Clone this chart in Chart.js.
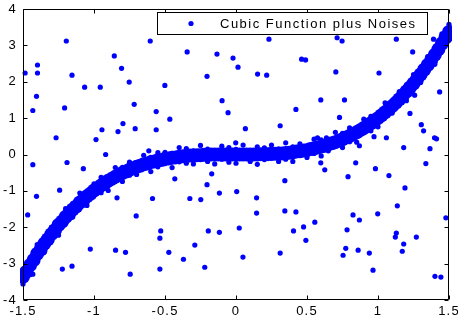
<!DOCTYPE html>
<html>
<head>
<meta charset="utf-8">
<script src="https://cdn.jsdelivr.net/npm/chart.js@4/dist/chart.umd.min.js"></script>
<style>
html,body{margin:0;padding:0;background:#fff;}
#wrap{position:relative;width:458px;height:323px;}
</style>
</head>
<body>
<div id="wrap"><canvas id="c" width="458" height="323"></canvas></div>
<script>
// ---- data ----
const seriesLabel = 'Cubic Function plus Noises';
const xTickValues = [-1.5, -1, -0.5, 0, 0.5, 1, 1.5];
const xTickLabels = ['-1.5', '-1', '-0.5', '0', '0.5', '1', '1.5'];
const yTickValues = [-4, -3, -2, -1, 0, 1, 2, 3, 4];
const yTickLabels = ['-4', '-3', '-2', '-1', '0', '1', '2', '3', '4'];

// dense band (core of the noisy cubic)
const bandX = [-1.5,-1.475,-1.45,-1.425,-1.4,-1.375,-1.35,-1.325,-1.3,-1.275,-1.25,-1.225,-1.2,-1.175,-1.15,-1.125,-1.1,-1.075,-1.05,-1.025,-1,-0.975,-0.95,-0.925,-0.9,-0.875,-0.85,-0.825,-0.8,-0.775,-0.75,-0.725,-0.7,-0.675,-0.65,-0.625,-0.6,-0.575,-0.55,-0.525,-0.5,-0.475,-0.45,-0.425,-0.4,-0.375,-0.35,-0.325,-0.3,-0.275,-0.25,-0.225,-0.2,-0.175,-0.15,-0.125,-0.1,-0.075,-0.05,-0.025,0,0.025,0.05,0.075,0.1,0.125,0.15,0.175,0.2,0.225,0.25,0.275,0.3,0.325,0.35,0.375,0.4,0.425,0.45,0.475,0.5,0.525,0.55,0.575,0.6,0.625,0.65,0.675,0.7,0.725,0.75,0.775,0.8,0.825,0.85,0.875,0.9,0.925,0.95,0.975,1,1.025,1.05,1.075,1.1,1.125,1.15,1.175,1.2,1.225,1.25,1.275,1.3,1.325,1.35,1.375,1.4,1.425,1.45,1.475,1.5];
const bandY = [-3.36,-3.22,-3.04,-2.90,-2.73,-2.61,-2.45,-2.33,-2.19,-2.08,-1.94,-1.84,-1.72,-1.63,-1.51,-1.43,-1.32,-1.25,-1.15,-1.08,-0.99,-0.93,-0.85,-0.80,-0.72,-0.67,-0.61,-0.56,-0.51,-0.47,-0.42,-0.38,-0.34,-0.31,-0.27,-0.25,-0.21,-0.19,-0.16,-0.15,-0.12,-0.11,-0.09,-0.08,-0.06,-0.05,-0.04,-0.03,-0.03,-0.02,-0.02,-0.01,-0.01,0,0,0,0,0,0,0,0,0,0,0,0,0,0,0.01,0.01,0.01,0.02,0.02,0.03,0.03,0.04,0.05,0.06,0.08,0.09,0.11,0.12,0.15,0.17,0.19,0.22,0.24,0.28,0.31,0.34,0.38,0.42,0.47,0.51,0.56,0.61,0.67,0.73,0.79,0.86,0.93,1.00,1.08,1.16,1.24,1.33,1.42,1.52,1.62,1.73,1.84,1.95,2.07,2.20,2.33,2.46,2.60,2.74,2.89,3.05,3.21,3.37];

// ragged edges of the band
const edgeX = [-1.5,-1.45,-1.4,-1.35,-1.3,-1.25,-1.2,-1.15,-1.1,-1.05,-1,-0.95,-0.9,-0.85,-0.8,-0.75,-0.7,-0.65,-0.6,-0.55,-0.5,-0.45,-0.4,-0.35,-0.3,-0.25,-0.2,-0.15,-0.1,-0.05,0,0.05,0.1,0.15,0.2,0.25,0.3,0.35,0.4,0.45,0.5,0.55,0.6,0.65,0.7,0.75,0.8,0.85,0.9,0.95,1,1.05,1.1,1.15,1.2,1.25,1.3,1.35,1.4,1.45,1.5];
const edgeUpperY = [-3.16,-2.93,-2.48,-2.31,-2.00,-1.85,-1.49,-1.35,-1.06,-1.03,-0.81,-0.63,-0.62,-0.36,-0.35,-0.21,-0.25,-0.02,-0.08,0.05,0.06,0.03,0.19,0.16,0.10,0.25,0.15,0.10,0.23,0.19,0.14,0.26,0.11,0.21,0.18,0.26,0.15,0.32,0.21,0.29,0.23,0.42,0.40,0.41,0.61,0.58,0.73,0.72,0.97,1.05,1.14,1.42,1.45,1.73,1.90,2.20,2.30,2.69,2.89,3.32,3.58];
const edgeLowerY = [-3.56,-3.30,-2.85,-2.68,-2.34,-2.22,-1.89,-1.72,-1.43,-1.40,-1.13,-1.05,-0.99,-0.73,-0.74,-0.57,-0.55,-0.37,-0.47,-0.34,-0.25,-0.36,-0.20,-0.24,-0.26,-0.13,-0.19,-0.26,-0.13,-0.21,-0.24,-0.10,-0.19,-0.27,-0.14,-0.10,-0.19,-0.13,-0.19,-0.02,-0.08,0.03,-0.04,0.10,0.24,0.19,0.35,0.34,0.60,0.65,0.76,1.05,1.14,1.37,1.48,1.83,1.98,2.29,2.48,2.91,3.18];

// scattered noise points
const noiseX = [-1.195,-0.604,-1.398,-1.485,-1.398,-1.155,-0.857,-0.806,-0.752,-1.066,-0.956,-1.405,-0.717,-1.431,-1.207,-0.562,-1.267,-0.944,-0.796,-0.831,-0.710,-0.562,-0.986,-0.918,-0.614,-1.431,-1.190,-1.075,-1.242,-1.405,-0.838,-0.588,-1.467,-0.703,-1.026,-0.848,-0.778,-0.536,-0.536,-1.223,-1.155,-0.745,-1.431,-0.530,-0.473,-0.370,-0.290,-0.220,-0.195,-0.117,0.023,0.049,0.145,0.311,0.344,0.422,0.405,0.476,0.492,0.555,0.824,0.869,0.998,0.782,0.773,0.754,0.860,0.939,0.965,1.129,1.122,1.181,1.171,1.270,1.478,1.401,1.443,-0.098,-0.056,0.422,-0.466,0.066,0.311,-0.002,-0.171,-0.431,-0.204,-0.117,0.005,0.344,-0.325,-0.248,0.145,0.232,-0.344,-0.134,-0.021,0.014,-0.204,-0.501,0.152,0.216,0.462,0.490,0.712,0.747,1.129,1.244,0.703,1.007,0.597,0.764,1.434,1.258,1.391,0.729,1.225,1.305,1.321,1.398,1.412,1.366,1.181,1.059,0.972,0.869,1.337,0.597,0.625,0.843,0.982,0.789,1.077,1.190,1.136,0.574,0.637];
const noiseY = [3.12,3.12,2.46,2.24,2.24,2.18,2.71,2.37,1.99,1.85,1.85,1.60,1.38,1.21,1.28,1.18,0.46,0.68,0.85,0.63,0.71,0.68,0.41,0.00,0.10,-0.28,-0.22,-0.39,-0.98,-1.15,-1.19,-1.21,-1.66,-1.69,-2.60,-2.63,-2.69,-2.30,-3.15,-3.15,-3.07,-3.29,-3.29,-2.10,-2.69,-2.88,-2.49,-3.10,-2.10,-2.14,-2.02,-2.82,-1.61,-2.71,-1.55,-1.58,-2.10,-1.99,-2.36,-1.86,-1.66,-1.80,-1.63,-2.07,-2.58,-2.77,-2.63,-2.71,-3.18,-2.16,-2.27,-2.46,-2.66,-2.27,-1.74,-3.35,-3.37,1.48,1.15,1.24,0.97,0.71,0.79,0.32,-0.53,-0.67,-0.83,-1.06,-1.02,-0.72,-1.21,-1.24,-1.19,3.17,2.82,2.76,2.65,2.40,2.15,1.90,2.21,2.18,2.62,2.60,3.21,3.12,3.17,2.82,2.27,2.24,1.50,1.50,1.72,1.63,3.17,1.02,1.13,0.82,0.65,0.46,0.43,0.16,0.19,0.46,0.49,0.24,-0.25,-0.23,-0.42,-0.23,-0.39,-0.61,-0.58,-0.92,-1.41,0.46,0.46];

// ---- chart ----
const BLUE = '#0000ff';
const pts = (xs, ys) => xs.map((x, i) => ({x: x, y: ys[i]}));

const framePlugin = {
  id: 'frame',
  beforeDraw(chart) {
    chart.ctx.letterSpacing = '1.2px';
  },
  afterDraw(chart) {
    const ctx = chart.ctx;
    const a = chart.chartArea;
    const xs = chart.scales.x, ys = chart.scales.y;
    ctx.save();
    ctx.letterSpacing = '0px';
    ctx.strokeStyle = '#000';
    ctx.lineWidth = 1;
    const L = Math.round(a.left) + 0.5, R = Math.round(a.right) - 0.5;
    const T = Math.round(a.top) + 0.5, B = Math.round(a.bottom) - 0.5;
    ctx.beginPath();
    ctx.rect(L, T, R - L, B - T);
    const tl = 4;
    xTickValues.forEach(v => {
      const p = Math.round(xs.getPixelForValue(v)) + 0.5;
      ctx.moveTo(p, B); ctx.lineTo(p, B - tl);
      ctx.moveTo(p, T); ctx.lineTo(p, T + tl);
    });
    yTickValues.forEach(v => {
      const p = Math.round(ys.getPixelForValue(v)) + 0.5;
      ctx.moveTo(L, p); ctx.lineTo(L + tl, p);
      ctx.moveTo(R, p); ctx.lineTo(R - tl, p);
    });
    ctx.stroke();

    // legend box
    const bx = 157.5, by = 12.5, bw = 270, bh = 22;
    ctx.fillStyle = '#fff';
    ctx.fillRect(bx, by, bw, bh);
    ctx.strokeRect(bx, by, bw, bh);
    ctx.fillStyle = BLUE;
    ctx.beginPath();
    ctx.arc(191, 23.5, 2.6, 0, Math.PI * 2);
    ctx.fill();
    ctx.fillStyle = '#000';
    ctx.font = '13px "Liberation Sans", Arial, sans-serif';
    ctx.letterSpacing = '1.5px';
    ctx.textBaseline = 'middle';
    ctx.textAlign = 'left';
    ctx.fillText(seriesLabel, 220, 24);
    ctx.restore();
  }
};

Chart.defaults.font.family = '"Liberation Sans", Arial, sans-serif';
Chart.defaults.font.size = 13;
Chart.defaults.color = '#000';

new Chart(document.getElementById('c'), {
  type: 'scatter',
  data: {
    datasets: [
      {label: 'band', data: pts(bandX, bandY), pointRadius: 7, pointBorderWidth: 0,
       backgroundColor: BLUE, borderColor: BLUE, clip: 3},
      {label: 'upper', data: pts(edgeX, edgeUpperY), pointRadius: 2.6, pointBorderWidth: 0,
       backgroundColor: BLUE, borderColor: BLUE, clip: false},
      {label: 'lower', data: pts(edgeX, edgeLowerY), pointRadius: 2.6, pointBorderWidth: 0,
       backgroundColor: BLUE, borderColor: BLUE, clip: false},
      {label: seriesLabel, data: pts(noiseX, noiseY), pointRadius: 2.6, pointBorderWidth: 0,
       backgroundColor: BLUE, borderColor: BLUE, clip: false}
    ]
  },
  options: {
    responsive: false,
    animation: false,
    events: [],
    layout: {padding: {left: 0, right: 9, top: 9, bottom: 0}},
    plugins: {legend: {display: false}, tooltip: {enabled: false}},
    scales: {
      x: {
        type: 'linear', min: -1.5, max: 1.5,
        grid: {display: false, drawTicks: false},
        border: {display: false},
        afterBuildTicks: s => { s.ticks = xTickValues.map(v => ({value: v})); },
        ticks: {padding: 4, maxRotation: 0, autoSkip: false,
                callback: (v, i) => xTickLabels[i]},
        afterFit: s => { s.height = 23; s.paddingLeft = 0; s.paddingRight = 0; }
      },
      y: {
        type: 'linear', min: -4, max: 4,
        grid: {display: false, drawTicks: false},
        border: {display: false},
        afterBuildTicks: s => { s.ticks = yTickValues.map(v => ({value: v})); },
        ticks: {padding: 6, autoSkip: false,
                callback: (v, i) => yTickLabels[i]},
        afterFit: s => { s.width = 23; s.paddingTop = 0; s.paddingBottom = 0; }
      }
    }
  },
  plugins: [framePlugin]
});
</script>
</body>
</html>
